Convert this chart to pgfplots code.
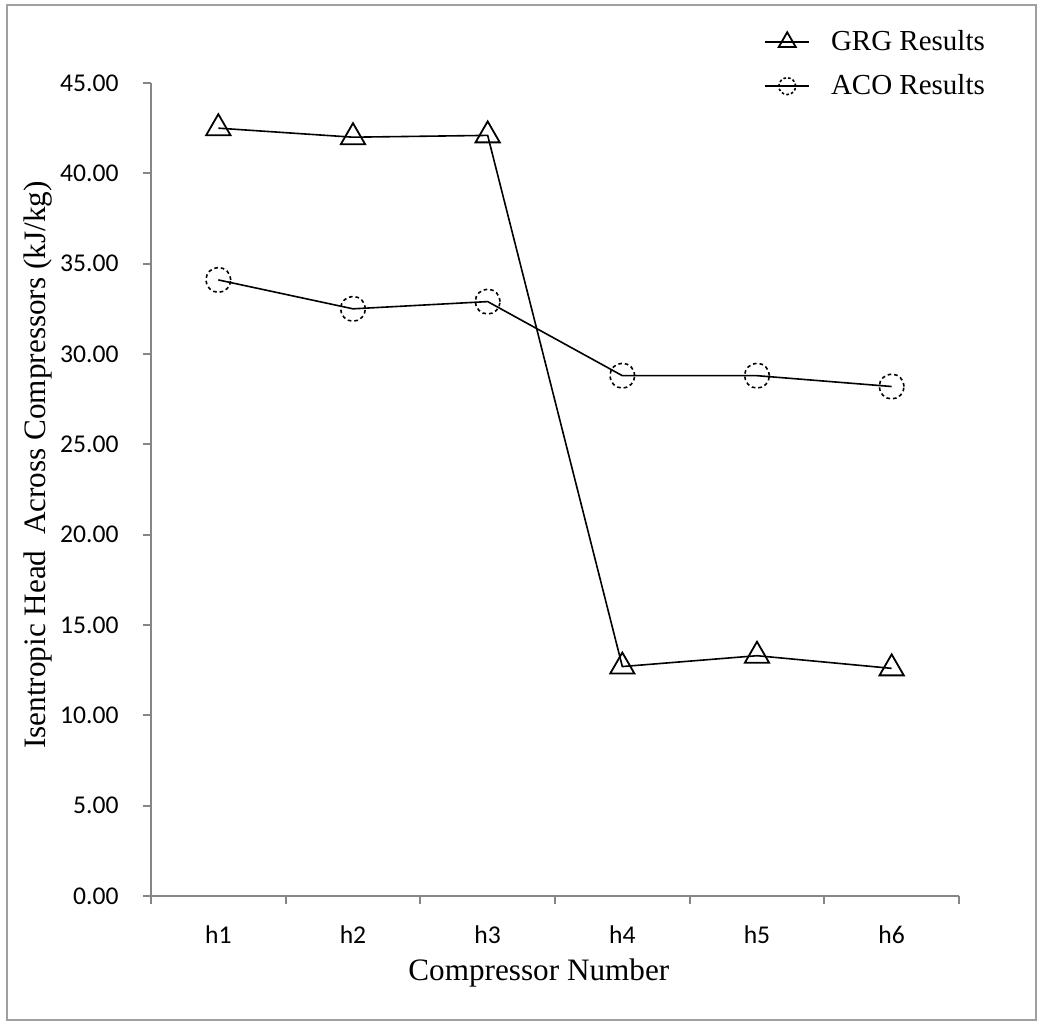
\documentclass[border=0pt]{standalone}
\usepackage{pgfplots}
\pgfplotsset{compat=1.18}
\usepackage{fontspec}
\setmainfont{Liberation Serif}
\newfontfamily\calibri{Carlito}
\definecolor{axisgray}{HTML}{868686}
\definecolor{framegray}{HTML}{A0A0A0}

\begin{document}
\begin{tikzpicture}
\useasboundingbox (-75.5pt,-62.5pt) rectangle (443pt,448pt);
\draw[framegray, line width=1pt] (-72pt,-62pt) rectangle (442.5pt,445.5pt);
\begin{axis}[
  at={(0pt,0pt)}, anchor=south west,
  scale only axis, width=404pt, height=406.5pt,
  xmin=0.5, xmax=6.5, ymin=0, ymax=45,
  axis x line=bottom, axis y line=left,
  axis line style={-, draw=axisgray, line width=1pt},
  tick align=outside,
  tick style={draw=axisgray, line width=1pt},
  major tick length=4pt, minor tick length=4pt,
  xtick={1,2,3,4,5,6},
  xticklabels={h1,h2,h3,h4,h5,h6},
  major x tick style={draw=none},
  minor xtick={0.5,1.5,2.5,3.5,4.5,5.5,6.5},
  ytick={0,5,10,15,20,25,30,35,40,45},
  /pgf/number format/assume math mode=true,
  ticklabel style={font=\calibri\fontsize{12.8}{14}\selectfont, text=black, inner sep=0pt},
  yticklabel style={/pgf/number format/fixed, /pgf/number format/fixed zerofill, /pgf/number format/precision=2},
  yticklabel shift=12pt,
  xticklabel shift=10.5pt,
  xlabel={Compressor Number},
  ylabel={Isentropic Head\enspace Across Compressors (kJ/kg)},
  label style={font=\fontsize{15.6}{18}\selectfont},
  xlabel style={at={(axis description cs:0.480,-0.0950)}, anchor=center},
  ylabel style={at={(axis description cs:-0.140,0.530)}, anchor=center},
  clip=false,
  legend style={at={(axis description cs:0.7587,1.070)}, anchor=north west,
    draw=none, fill=none, font=\fontsize{14.5}{17}\selectfont, row sep=6.5pt,
    column sep=8.5pt, inner sep=0pt},
  legend cell align=left,
  legend image code/.code={\draw[mark repeat=2,mark phase=2] plot coordinates {(0pt,0pt) (11pt,0pt) (22pt,0pt)};},
]
\addplot[black, line width=0.8pt, mark=triangle, mark size=7pt, mark options={solid, line width=0.9pt}, forget plot]
  coordinates {(1,42.5) (2,42.0) (3,42.1) (4,12.7) (5,13.3) (6,12.6)};
\addplot[black, line width=0.8pt, mark=o, mark size=6.2pt, mark options={line width=0.8pt, dash pattern=on 1.8pt off 1.5pt}, forget plot]
  coordinates {(1,34.1) (2,32.5) (3,32.9) (4,28.8) (5,28.8) (6,28.2)};
\addlegendimage{black, line width=0.8pt, mark=triangle, mark size=4.9pt, mark options={solid, line width=0.9pt}}
\addlegendentry{GRG Results}
\addlegendimage{black, line width=0.8pt, mark=o, mark size=4.2pt, mark options={line width=0.8pt, dash pattern=on 1.3pt off 1.1pt}}
\addlegendentry{ACO Results}
\end{axis}
\end{tikzpicture}
\end{document}
